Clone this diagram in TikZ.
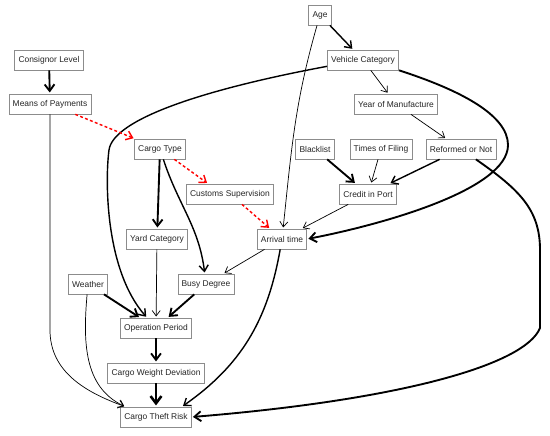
\documentclass[tikz,border=0pt]{standalone}
\usepackage{fontspec}
\setmainfont{Liberation Sans}
\usetikzlibrary{arrows.meta,calc}

\begin{document}
\begin{tikzpicture}[
    x=0.3mm,y=0.3mm,
    >={Straight Barb[length=4pt 1,width=6pt 1.5]},
    factor/.style={draw=black!45,fill=white,line width=0.6pt,minimum height=6mm,inner xsep=3.2pt,inner ysep=0pt,font=\fontsize{7.2}{8}\selectfont,text=black!85},
    link/.style={->,black,shorten >=1pt},
    hint/.style={->,red,line width=1.2pt,dash pattern=on 2.5pt off 2pt,shorten >=1pt}
  ]
    \useasboundingbox (0,0) rectangle (550,-435);

    % Factor nodes, top to bottom
    \node[factor] (age) at (320,-15) {Age};
    \node[factor] (vc) at (363,-60) {Vehicle Category};
    \node[factor] (cl) at (49,-60) {Consignor Level};
    \node[factor] (mop) at (50,-104) {Means of Payments};
    \node[factor] (yom) at (396,-104) {Year of Manufacture};
    \node[factor] (ct) at (160,-149) {Cargo Type};
    \node[factor] (bl) at (315,-149) {Blacklist};
    \node[factor] (tof) at (381,-149) {Times of Filing};
    \node[factor] (ron) at (461,-149) {Reformed or Not};
    \node[factor] (cs) at (230,-194) {Customs Supervision};
    \node[factor] (cip) at (368,-194) {Credit in Port};
    \node[factor] (yc) at (157,-239) {Yard Category};
    \node[factor] (arr) at (282,-239) {Arrival time};
    \node[factor] (wea) at (88,-284) {Weather};
    \node[factor] (bd) at (206,-284) {Busy Degree};
    \node[factor] (op) at (156,-328) {Operation Period};
    \node[factor] (cwd) at (156,-373) {Cargo Weight Deviation};
    \node[factor] (ctr) at (156,-417) {Cargo Theft Risk};

    % Vehicle side
    \draw[link,very thick] (age) -- (vc);
    \draw[link,semithick] (age) to[out=-106,in=84] (arr);
    \draw[link,semithick] (vc) -- (yom);
    \draw[link,semithick] (yom) -- (ron);
    \draw[link,very thick] (vc.190) .. controls (200,-90) and (113,-120) .. (109,-150)
        .. controls (105,-180) and (105,-270) .. ($(op.north)+(-9,0)$);
    \draw[link,ultra thick] (vc.-16) .. controls (460,-90) and (508,-115) .. (508,-145)
        .. controls (508,-190) and (380,-225) .. (arr.east);
    \draw[link,ultra thick] (ron) .. controls (520,-190) and (540,-210) .. (540,-250) -- (540,-328)
        .. controls (525,-365) and (400,-400) .. (ctr.east);

    % Credit in port
    \draw[link,ultra thick] (bl) -- (cip);
    \draw[link,semithick] (tof) -- (cip);
    \draw[link,very thick] (ron) -- (cip);
    \draw[link,semithick] (cip) -- (arr);

    % Consignor side
    \draw[link,ultra thick] (cl) -- (mop);
    \draw[link,semithick] (mop) -- (50,-330) to[out=-90,in=160] ($(ctr.north west)+(5,0)$);
    \draw[hint] (mop) -- (ct);
    \draw[hint] (ct) -- ($(cs.north)+(-22,0)$);
    \draw[hint] (cs) -- (arr);

    % Operation
    \draw[link,ultra thick] (ct) -- (yc);
    \draw[link,very thick] (ct) to[out=-72,in=97] (bd);
    \draw[link,semithick] (arr) -- (bd);
    \draw[link,very thick] (arr) to[out=-100,in=35] ($(ctr.north)+(26,0)$);
    \draw[link,semithick] (yc) -- (op);
    \draw[link,ultra thick] (wea) -- (op);
    \draw[link,ultra thick] (bd) -- (op);
    \draw[link,semithick] (wea) to[out=-95,in=155] ($(ctr.north west)+(5,0)$);
    \draw[link,ultra thick] (op) -- (cwd);
    \draw[link,line width=2.2pt] (cwd) -- (ctr);
  \end{tikzpicture}
\end{document}
